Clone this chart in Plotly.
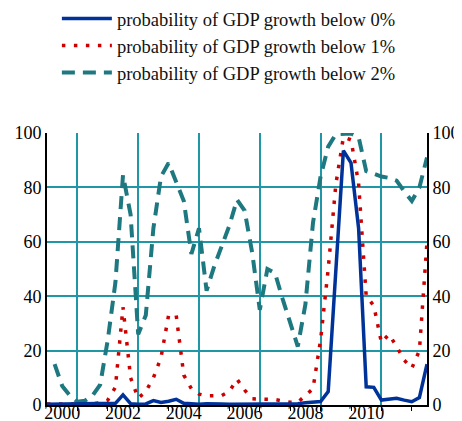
import plotly.graph_objects as go

# quarterly observations, 2000Q1 .. 2012Q3 (positioned at year + k/4)
quarters = [2000 + k / 4 for k in range(51)]

below_0 = [0.3, 0.3, 0.3, 0.3, 0.3, 0.3, 0.3, 0.3, 0.4, 0.6,
           3.7, 0.5, 0.3, 0.4, 1.6, 0.9, 1.4, 2.1, 0.6, 0.3,
           0.3, 0.5, 0.6, 0.4, 0.3, 0.3, 0.2, 0.4, 0.5, 0.4,
           0.4, 0.3, 0.3, 0.5, 0.8, 1.0, 1.3, 4.9, 50.0, 93.5,
           89.0, 65.0, 6.7, 6.5, 1.8, 2.2, 2.5, 1.8, 1.2, 2.7,
           15.0]

below_1 = [0.4, 0.4, 0.4, 0.4, 0.4, 0.4, 0.4, 0.8, 1.8, 6.5,
           36.0, 10.0, 2.5, 5.0, 10.0, 17.5, 33.0, 33.0, 11.0, 6.0,
           4.0, 3.4, 3.4, 3.5, 5.0, 9.5, 5.5, 2.3, 2.2, 2.2,
           2.0, 1.5, 1.0, 1.0, 3.3, 6.0, 24.0, 50.0, 81.0, 98.5,
           97.5, 81.5, 40.0, 36.5, 23.0, 26.0, 21.5, 16.5, 13.5, 20.0,
           60.0]

below_2 = [None, 15.0, 7.0, 3.5, 1.2, 1.6, 3.5, 7.5, 24.0, 45.0,
           84.5, 70.0, 26.0, 33.0, 65.0, 84.0, 89.0, 82.0, 75.0, 55.5,
           65.0, 42.0, 51.0, 58.5, 66.0, 75.5, 71.5, 56.0, 35.0, 50.0,
           48.5, 39.0, 30.0, 21.5, 37.0, 67.0, 84.0, 95.0, 99.5, 99.8,
           99.8, 98.5, 86.0, 85.0, 84.0, 83.5, 82.5, 78.5, 75.0, 80.0,
           91.0]

series_names = ["probability of GDP growth below 0%",
                "probability of GDP growth below 1%",
                "probability of GDP growth below 2%"]

year_label_pos = [2000.5, 2002.5, 2004.5, 2006.5, 2008.5, 2010.5]
year_labels = ["2000", "2002", "2004", "2006", "2008", "2010"]
grid_years = [2001, 2003, 2005, 2007, 2009, 2011]
tick_years = [2002, 2004, 2006, 2008, 2010, 2012]
y_ticks = [0, 20, 40, 60, 80, 100]

BLUE = "#003399"
RED = "#CC0000"
TEAL = "#1E7880"
GRID = "#1F97A6"
FONT = "Times New Roman, Liberation Serif, Tinos, serif"

fig = go.Figure()
# blue series sits on the overlay subplot (x2/y2) so it is drawn on top
fig.add_trace(go.Scatter(x=quarters, y=below_0, name=series_names[0], mode="lines",
                         xaxis="x2", yaxis="y2",
                         line=dict(color=BLUE, width=3.5)))
fig.add_trace(go.Scatter(x=quarters, y=below_1, name=series_names[1], mode="lines",
                         line=dict(color=RED, width=3.5, dash="3.5px,8.5px")))
fig.add_trace(go.Scatter(x=quarters, y=below_2, name=series_names[2], mode="lines",
                         connectgaps=False,
                         line=dict(color=TEAL, width=4, dash="13px,8px")))

# the page body adds an 8px offset, so the figure is sized for the visible window
fig.update_layout(
    width=454, height=413,
    margin=dict(l=39, r=35, t=124.7, b=16, autoexpand=False),
    paper_bgcolor="white", plot_bgcolor="white",
    font=dict(family=FONT, size=18, color="black"),
    showlegend=True,
    legend=dict(x=0.026, y=1.4895, xanchor="left", yanchor="top",
                font=dict(family=FONT, size=18.5, color="#111111"),
                bgcolor="rgba(0,0,0,0)", itemwidth=50,
                traceorder="normal", tracegroupgap=0),
    xaxis=dict(range=[2000, 2012.5], tickmode="array",
               tickvals=year_label_pos, ticktext=year_labels, ticks="",
               ticklabelstandoff=-10, automargin=False,
               showgrid=False, zeroline=False,
               showline=True, linecolor="black", linewidth=2,
               tickfont=dict(family=FONT, size=18, color="black"),
               minor=dict(tickmode="array", tickvals=grid_years + tick_years,
                          ticks="outside", ticklen=4, tickcolor="black",
                          showgrid=False)),
    xaxis2=dict(range=[2000, 2012.5], overlaying="x", anchor="y2",
                tickmode="array", tickvals=grid_years, showticklabels=False,
                ticks="", showgrid=True, gridcolor=GRID, gridwidth=1.5,
                zeroline=False, showline=False, automargin=False),
    yaxis=dict(range=[0, 100], tickmode="array", tickvals=y_ticks,
               showgrid=True, gridcolor=GRID, gridwidth=1.5, zeroline=False,
               showline=True, linecolor="black", linewidth=2, ticks="",
               automargin=False,
               tickfont=dict(family=FONT, size=18, color="black")),
    yaxis2=dict(range=[0, 100], overlaying="y", side="right", anchor="x2",
                tickmode="array", tickvals=y_ticks, showgrid=False,
                zeroline=False, showline=True, linecolor="black", linewidth=2,
                ticks="", automargin=False,
                tickfont=dict(family=FONT, size=18, color="black")),
)

fig.write_html("out.html")
